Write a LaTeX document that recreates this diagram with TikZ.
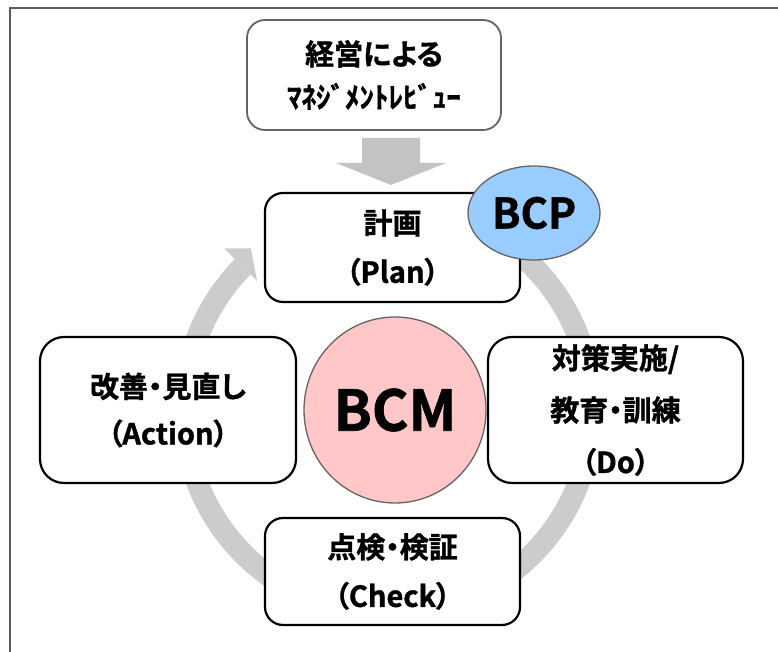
\documentclass[tikz,border=0pt]{standalone}
\usepackage{fontspec}
\setmainfont{Noto Sans CJK JP}[BoldFont={Noto Sans CJK JP Bold}, BoldFeatures={FakeBold=1.2}, RawFeature=+palt]
\usetikzlibrary{shapes.geometric}
\definecolor{ringgray}{RGB}{204,204,204}
\definecolor{arrowgray}{RGB}{195,195,195}
\definecolor{bcpblue}{RGB}{153,204,255}
\definecolor{bcmpink}{RGB}{255,199,199}
\definecolor{edgegray}{RGB}{100,100,100}
\definecolor{framegray}{RGB}{90,90,90}
\begin{document}
\begin{tikzpicture}[x=1pt,y=1pt,
  stagebox/.style={draw=black, line width=2.2pt, fill=white, align=center,
    inner sep=0pt, font=\bfseries\fontsize{29}{49}\selectfont},
  reviewbox/.style={draw=edgegray, line width=1.8pt, fill=white, align=center,
    inner sep=0pt, rounded corners=18pt, minimum width=254pt, minimum height=110pt,
    font=\bfseries\fontsize{29}{43}\selectfont},
  oval/.style={ellipse, draw=edgegray, line width=1.3pt, inner sep=0pt, font=\bfseries}]
\useasboundingbox (0,0) rectangle (778,652);
% frame
\draw[framegray, line width=2pt] (9.5,0) -- (9.5,644) -- (778,644);
% cycle ring
\coordinate (ringc) at (388,242);
\draw[ringgray, line width=22pt] (ringc) ++(120:204) arc[start angle=120, end angle=-224.6, radius=204];
\fill[ringgray, shift={(ringc)}] (135.4:184) -- (130.3:212) -- (135.4:230) -- cycle;
% down arrow
\fill[arrowgray] (362,514) -- (420,514) -- (420,489) -- (446,489) -- (391,467) -- (336,489) -- (362,489) -- cycle;
% nodes
\node[reviewbox] (review) at (374,577) {経営による\\ﾏﾈｼﾞﾒﾝﾄﾚﾋﾞｭｰ};
\node[stagebox, rounded corners=18pt, minimum width=255pt, minimum height=109pt] (plan) at (392.5,404.5) {計画\\（Plan）};
\node[stagebox, rounded corners=24pt, minimum width=256pt, minimum height=146pt] (act) at (168,242) {改善・見直し\\[-2pt]（Action）};
\node[stagebox, rounded corners=24pt, minimum width=255pt, minimum height=146pt, font=\bfseries\fontsize{29}{52}\selectfont] (do) at (615.5,242) {対策実施/\\教育・訓練\\（Do）};
\node[stagebox, rounded corners=18pt, minimum width=255pt, minimum height=107pt] (check) at (392.5,80.5) {点検・検証\\（Check）};
\node[oval, fill=bcpblue, minimum width=132pt, minimum height=94pt, font=\bfseries\fontsize{42}{42}\selectfont] (bcp) at (534,439) {BCP};
\node[oval, fill=bcmpink, minimum width=182pt, minimum height=186pt, font=\bfseries\fontsize{56}{56}\selectfont] (bcm) at (395,242) {BCM};
\end{tikzpicture}
\end{document}
